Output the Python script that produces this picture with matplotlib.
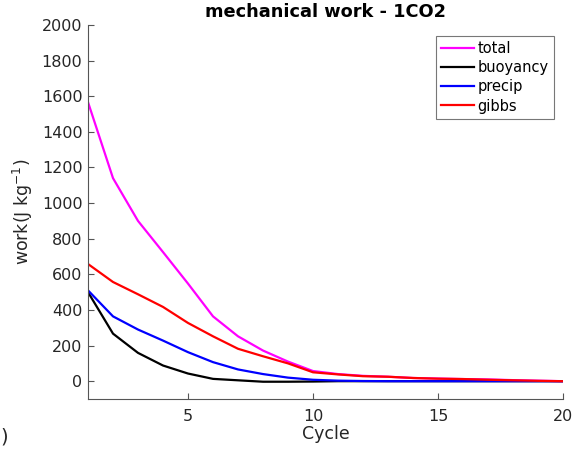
import matplotlib
matplotlib.use("Agg")
import matplotlib.pyplot as plt

cycles = list(range(1, 21))
total = [1567, 1140, 900, 725, 548, 364, 252, 172, 110, 57, 40, 30, 25, 18, 15, 12, 10, 6, 3, 0]
buoyancy = [500, 267, 159, 88, 43, 13, 5, -3, -3, -2, 0, 0, 0, 0, 0, 0, 0, 0, 0, 0]
precip = [510, 364, 290, 228, 163, 107, 66, 40, 20, 8, 3, 1, 0, 0, 0, 0, 0, 0, 0, 0]
gibbs = [658, 557, 488, 417, 327, 252, 182, 140, 100, 50, 38, 28, 25, 18, 14, 12, 8, 5, 2, 0]

series = [("total", total, "#ff00ff"),
          ("buoyancy", buoyancy, "#000000"),
          ("precip", precip, "#0000ff"),
          ("gibbs", gibbs, "#ff0000")]

plt.rcParams['font.family'] = ['DejaVu Sans']
fig = plt.figure(figsize=(5.86, 4.53), dpi=100)
ax = fig.add_axes([88/586, 1 - 399/453, (563-88)/586, (399-25)/453])

for name, vals, col in series:
    ax.plot(cycles, vals, color=col, lw=1.6, label=name)

ax.set_xlim(1, 20)
ax.set_ylim(-100, 2000)
ax.set_xticks([5, 10, 15, 20])
ax.set_yticks(range(0, 2001, 200))
for s in ("top", "right"):
    ax.spines[s].set_visible(False)
for s in ("left", "bottom"):
    ax.spines[s].set_color("#555555")
    ax.spines[s].set_linewidth(0.8)
ax.tick_params(direction="in", length=4, width=0.8, color="#555555",
               labelsize=11.5, labelcolor="#262626")
ax.tick_params(axis="x", pad=7)
ax.tick_params(axis="y", pad=4)

ax.set_title("mechanical work - 1CO2", fontsize=12.8, fontweight="bold", pad=6)
ax.set_xlabel("Cycle", fontsize=12.5, color="#262626", labelpad=1)
ax.set_ylabel("work(J kg$^{-1}$)", fontsize=12.5, color="#262626", labelpad=5)

leg = ax.legend(loc="upper right", bbox_to_anchor=(0.98, 0.97), fontsize=10.5,
                frameon=True, fancybox=False, handlelength=2.3, handletextpad=0.2,
                borderpad=0.35, labelspacing=0.28, borderaxespad=0)
leg.get_frame().set_edgecolor("#555555")
leg.get_frame().set_linewidth(0.8)

fig.text(0.0, 1 - 437/453, ")", fontsize=14, color="#262626", va="center", ha="left")

fig.savefig("out.png", dpi=100)
